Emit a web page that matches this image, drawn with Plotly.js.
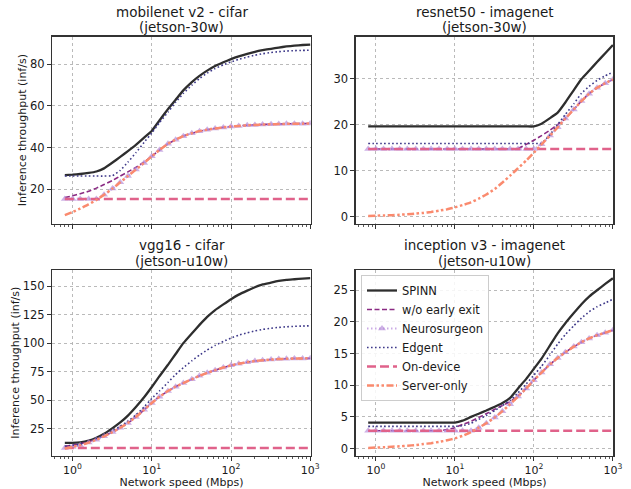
<!DOCTYPE html>
<html>
<head>
<meta charset="utf-8">
<script src="https://cdn.plot.ly/plotly-3.0.1.min.js"></script>
<style>
html,body{margin:0;padding:0;background:#fff;}
#chart{width:631px;height:489px;}
</style>
</head>
<body>
<div id="chart"></div>
<script>
// ---------- DATA ----------
const speeds = [0.8,1,1.25,1.6,2,2.5,3.2,4,5,6.3,8,10,12.5,16,20,25,32,40,50,63,80,100,125,160,200,250,320,400,500,630,800,1000];

const seriesNames = ["SPINN","w/o early exit","Neurosurgeon","Edgent","On-device","Server-only"];

const panelTitles = ["mobilenet v2 - cifar","resnet50 - imagenet","vgg16 - cifar","inception v3 - imagenet"];
const panelDevices = ["(jetson-30w)","(jetson-30w)","(jetson-u10w)","(jetson-u10w)"];

const xTickVals = [1,10,100,1000];
const xTickText = ["10<sup>0</sup>","10<sup>1</sup>","10<sup>2</sup>","10<sup>3</sup>"];

// mobilenet v2 - cifar (jetson-30w)
const mobilenetSpinn = [26.8,27.0,27.3,27.8,28.5,30.0,32.8,35.5,38.3,41.3,44.8,48.0,53.0,58.5,63.0,67.5,71.5,74.5,77.0,79.2,81.0,82.5,83.8,85.0,86.0,86.8,87.5,88.1,88.6,89.0,89.3,89.5];
const mobilenetNoEE = [16.0,16.8,17.8,19.0,20.5,22.2,24.2,26.3,28.3,30.5,33.0,35.8,38.8,41.8,43.8,45.5,46.9,47.9,48.6,49.2,49.7,50.1,50.4,50.7,50.9,51.1,51.2,51.3,51.4,51.5,51.5,51.6];
const mobilenetNeuro = [15.3,15.3,15.3,15.3,15.3,17.3,20.3,23.3,26.3,29.4,32.6,35.8,38.8,41.8,43.8,45.5,46.9,47.9,48.6,49.2,49.7,50.1,50.4,50.7,50.9,51.1,51.2,51.3,51.4,51.5,51.5,51.6];
const mobilenetEdgent = [26.3,26.3,26.3,26.3,26.3,26.3,26.5,29.0,33.0,37.5,42.5,47.0,52.0,57.0,61.8,66.0,70.0,73.2,75.8,78.0,79.8,81.2,82.4,83.5,84.4,85.1,85.7,86.1,86.4,86.6,86.7,86.8];
const mobilenetOnDevice = [15.3,15.3,15.3,15.3,15.3,15.3,15.3,15.3,15.3,15.3,15.3,15.3,15.3,15.3,15.3,15.3,15.3,15.3,15.3,15.3,15.3,15.3,15.3,15.3,15.3,15.3,15.3,15.3,15.3,15.3,15.3,15.3];
const mobilenetServer = [7.5,9.0,10.7,12.7,14.8,17.3,20.3,23.3,26.3,29.4,32.6,35.8,38.8,41.8,43.8,45.5,46.9,47.9,48.6,49.2,49.7,50.1,50.4,50.7,50.9,51.1,51.2,51.3,51.4,51.5,51.5,51.6];

// resnet50 - imagenet (jetson-30w)
const resnetSpinn = [19.6,19.6,19.6,19.6,19.6,19.6,19.6,19.6,19.6,19.6,19.6,19.6,19.6,19.6,19.6,19.6,19.6,19.6,19.6,19.6,19.6,19.6,20.2,21.4,22.6,24.8,27.5,29.9,31.7,33.6,35.5,37.3];
const resnetNoEE = [14.7,14.7,14.7,14.7,14.7,14.7,14.7,14.7,14.7,14.7,14.7,14.7,14.7,14.7,14.7,14.7,14.7,14.7,14.7,14.8,15.7,16.6,17.6,18.8,20.0,21.3,23.3,25.1,26.7,28.0,29.0,29.8];
const resnetNeuro = [14.7,14.7,14.7,14.7,14.7,14.7,14.7,14.7,14.7,14.7,14.7,14.7,14.7,14.7,14.7,14.7,14.7,14.7,14.7,14.7,14.7,14.7,15.7,17.6,19.4,21.3,23.3,25.1,26.7,28.0,29.0,29.8];
const resnetEdgent = [15.9,15.9,15.9,15.9,15.9,15.9,15.9,15.9,15.9,15.9,15.9,15.9,15.9,15.9,15.9,15.9,15.9,15.9,15.9,15.9,15.9,15.9,15.9,17.8,20.0,22.2,24.5,26.8,28.3,29.6,30.6,31.4];
const resnetOnDevice = [14.7,14.7,14.7,14.7,14.7,14.7,14.7,14.7,14.7,14.7,14.7,14.7,14.7,14.7,14.7,14.7,14.7,14.7,14.7,14.7,14.7,14.7,14.7,14.7,14.7,14.7,14.7,14.7,14.7,14.7,14.7,14.7];
const resnetServer = [0.15,0.2,0.25,0.32,0.4,0.5,0.65,0.8,1.0,1.3,1.6,2.0,2.5,3.1,3.9,4.8,6.0,7.4,8.9,10.5,12.2,13.9,15.7,17.6,19.4,21.3,23.3,25.1,26.7,28.0,29.0,29.8];

// vgg16 - cifar (jetson-u10w)
const vggSpinn = [12.5,12.5,13.0,14.5,17.0,20.5,25.5,30.5,36.5,44.0,52.5,61.5,71.0,81.0,90.5,100.0,108.5,116.0,123.0,129.0,134.0,138.5,142.5,146.0,149.0,151.5,153.0,154.5,155.5,156.0,156.5,157.0];
const vggNoEE = [9.5,10.5,11.8,13.5,15.8,18.5,22.0,25.8,30.0,35.3,41.5,47.5,53.0,58.0,61.8,65.0,68.3,71.3,74.0,76.3,78.6,80.5,82.0,83.3,84.3,85.0,85.6,86.0,86.3,86.5,86.6,86.7];
const vggNeuro = [8.0,9.0,10.5,12.8,15.3,18.3,22.0,25.8,30.0,35.3,41.5,47.5,53.0,58.0,61.8,65.0,68.3,71.3,74.0,76.3,78.6,80.5,82.0,83.3,84.3,85.0,85.6,86.0,86.3,86.5,86.6,86.7];
const vggEdgent = [9.5,10.5,11.5,13.5,16.5,19.5,23.5,27.0,31.5,37.0,44.0,51.5,58.0,65.5,72.5,78.5,84.5,89.5,94.0,98.0,101.5,104.5,107.0,109.0,110.7,112.0,113.0,113.8,114.3,114.7,115.0,115.2];
const vggOnDevice = [8.0,8.0,8.0,8.0,8.0,8.0,8.0,8.0,8.0,8.0,8.0,8.0,8.0,8.0,8.0,8.0,8.0,8.0,8.0,8.0,8.0,8.0,8.0,8.0,8.0,8.0,8.0,8.0,8.0,8.0,8.0,8.0];
const vggServer = [7.5,9.0,10.5,12.8,15.3,18.3,22.0,25.8,30.0,35.3,41.5,47.5,53.0,58.0,61.8,65.0,68.3,71.3,74.0,76.3,78.6,80.5,82.0,83.3,84.3,85.0,85.6,86.0,86.3,86.5,86.6,86.7];

// inception v3 - imagenet (jetson-u10w)
const inceptionSpinn = [4.1,4.1,4.1,4.1,4.1,4.1,4.1,4.1,4.1,4.1,4.1,4.1,4.4,5.0,5.5,6.0,6.6,7.2,8.0,9.5,11.0,12.6,14.2,16.3,18.2,19.8,21.4,22.8,24.0,25.0,26.0,26.9];
const inceptionNoEE = [2.8,2.8,2.8,2.8,2.8,2.8,2.8,2.8,2.8,2.8,3.0,3.3,3.8,4.3,4.9,5.5,6.2,6.8,7.4,8.3,9.5,10.8,12.0,13.3,14.3,15.2,16.1,16.8,17.4,17.9,18.3,18.7];
const inceptionNeuro = [2.8,2.8,2.8,2.8,2.8,2.8,2.8,2.8,2.8,2.8,2.8,2.8,2.8,2.8,3.3,4.0,4.9,5.9,7.0,8.2,9.5,10.8,12.0,13.3,14.3,15.2,16.1,16.8,17.4,17.9,18.3,18.7];
const inceptionEdgent = [3.5,3.5,3.5,3.5,3.5,3.5,3.5,3.5,3.5,3.5,3.5,3.5,3.6,4.0,4.6,5.2,6.0,6.8,7.6,8.8,10.2,11.6,13.0,14.8,16.5,18.0,19.4,20.6,21.6,22.4,23.0,23.6];
const inceptionOnDevice = [2.8,2.8,2.8,2.8,2.8,2.8,2.8,2.8,2.8,2.8,2.8,2.8,2.8,2.8,2.8,2.8,2.8,2.8,2.8,2.8,2.8,2.8,2.8,2.8,2.8,2.8,2.8,2.8,2.8,2.8,2.8,2.8];
const inceptionServer = [0.1,0.15,0.2,0.3,0.35,0.45,0.55,0.7,0.85,1.05,1.3,1.6,2.0,2.6,3.3,4.0,4.9,5.9,7.0,8.2,9.5,10.8,12.0,13.3,14.3,15.2,16.1,16.8,17.4,17.9,18.3,18.7];

// ---------- STYLE ----------
const FONT = "DejaVu Sans, Liberation Sans, sans-serif";
const TXT = "#1a1a1a";
const W = 631, H = 489;

const styles = [
  {mode:"lines", line:{color:"#2e2e2e", width:2.3, shape:"spline", smoothing:0.35}},
  {mode:"lines", line:{color:"#8a2a83", width:1.6, dash:"5px,2.5px", shape:"spline", smoothing:0.35}},
  {mode:"lines+markers", line:{color:"rgba(190,150,222,0.8)", width:2.2, dash:"1.5px,2.5px", shape:"spline", smoothing:0.35},
     marker:{symbol:"triangle-up", size:7, color:"rgba(178,135,215,0.65)", line:{width:0}}},
  {mode:"lines", line:{color:"#3f3a8a", width:1.6, dash:"1.6px,2.4px", shape:"spline", smoothing:0.35}},
  {mode:"lines", line:{color:"#e0628a", width:2.5, dash:"9px,4px"}},
  {mode:"lines", line:{color:"#fa8a6e", width:2.5, dash:"7px,2.5px,2.5px,2.5px,2.5px,2.5px", shape:"spline", smoothing:0.35}}
];

const panels = [
  {series:[mobilenetSpinn,mobilenetNoEE,mobilenetNeuro,mobilenetEdgent,mobilenetOnDevice,mobilenetServer], xa:"x", ya:"y"},
  {series:[resnetSpinn,resnetNoEE,resnetNeuro,resnetEdgent,resnetOnDevice,resnetServer], xa:"x2", ya:"y2"},
  {series:[vggSpinn,vggNoEE,vggNeuro,vggEdgent,vggOnDevice,vggServer], xa:"x3", ya:"y3"},
  {series:[inceptionSpinn,inceptionNoEE,inceptionNeuro,inceptionEdgent,inceptionOnDevice,inceptionServer], xa:"x4", ya:"y4"}
];

const traces = [];
panels.forEach((p, pi) => {
  p.series.forEach((vals, si) => {
    const st = styles[si];
    const t = {
      type:"scatter", x:speeds, y:vals, xaxis:p.xa, yaxis:p.ya,
      name:seriesNames[si], mode:st.mode, line:st.line,
      showlegend: pi === 3, legendgroup: seriesNames[si], hoverinfo:"skip"
    };
    if (st.marker) t.marker = st.marker;
    traces.push(t);
  });
});

const minorTicks = [];
[0.1,1,10,100].forEach(d => { for (let k = 2; k <= 9; k++) minorTicks.push(k*d); });

// plot areas in px: left, right, top, bottom
const colX = [[52.3,310.7],[355.7,613.3]];
const rowY = [[36.7,223.5],[270,455.5]];
const domX = c => [colX[c][0]/W, colX[c][1]/W];
const domY = r => [1-rowY[r][1]/H, 1-rowY[r][0]/H];

function xAxis(c, r, anchor, showLabels) {
  const ax = {
    type:"log", range:[-0.255,3.005], domain:domX(c), anchor:anchor,
    showline:true, mirror:true, linecolor:"#333", linewidth:1.3,
    ticks:"outside", ticklen:4, tickwidth:1, tickcolor:"#333",
    tickmode:"array", tickvals:xTickVals, ticktext:xTickText,
    showticklabels:showLabels,
    tickfont:{family:FONT, size:11, color:TXT},
    showgrid:true, gridcolor:"#b3b3b3", griddash:"dot", gridwidth:0.9,
    zeroline:false,
    minor:{tickmode:"array", tickvals:minorTicks, ticks:"outside", ticklen:2.2, tickwidth:0.8, tickcolor:"#333", showgrid:false}
  };
  if (showLabels) {
    ax.title = {text:"Network speed (Mbps)", font:{family:FONT, size:11, color:TXT}, standoff:4};
  }
  return ax;
}
function yAxis(c, r, anchor, range, dtick, withTitle) {
  const ax = {
    range:range, domain:domY(r), anchor:anchor,
    showline:true, mirror:true, linecolor:"#333", linewidth:1.3,
    ticks:"outside", ticklen:4, tickwidth:1, tickcolor:"#333",
    tick0:0, dtick:dtick,
    tickfont:{family:FONT, size:11.5, color:TXT},
    showgrid:true, gridcolor:"#b3b3b3", griddash:"dot", gridwidth:0.9,
    zeroline:false
  };
  if (withTitle) {
    ax.title = {text:"Inference throughput (inf/s)", font:{family:FONT, size:11, color:TXT}, standoff:1};
  }
  return ax;
}

const annotations = [];
for (let i = 0; i < 4; i++) {
  const c = i % 2, r = Math.floor(i / 2);
  const cx = (colX[c][0] + colX[c][1]) / 2 / W;
  const top = rowY[r][0];
  annotations.push({xref:"paper", yref:"paper", x:cx, y:1-(top-25)/H, xanchor:"center", yanchor:"middle",
    text:panelTitles[i], showarrow:false, font:{family:FONT, size:13.5, color:TXT}});
  annotations.push({xref:"paper", yref:"paper", x:cx, y:1-(top-9.5)/H, xanchor:"center", yanchor:"middle",
    text:panelDevices[i], showarrow:false, font:{family:FONT, size:13.5, color:TXT}});
}

const layout = {
  width:W, height:H, margin:{l:0, r:0, t:0, b:0},
  paper_bgcolor:"#fff", plot_bgcolor:"#fff",
  font:{family:FONT, color:TXT},
  xaxis: xAxis(0,0,"y",false),
  yaxis: yAxis(0,0,"x",[3.5,93.3],20,true),
  xaxis2: xAxis(1,0,"y2",false),
  yaxis2: yAxis(1,0,"x2",[-1.5,39.1],10,false),
  xaxis3: xAxis(0,1,"y3",true),
  yaxis3: yAxis(0,1,"x3",[1.5,164.1],25,true),
  xaxis4: xAxis(1,1,"y4",true),
  yaxis4: yAxis(1,1,"x4",[-1.1,28.2],5,false),
  annotations: annotations,
  legend:{x:361/W, y:1-275/H, xanchor:"left", yanchor:"top",
    bgcolor:"rgba(255,255,255,0.85)", bordercolor:"#cccccc", borderwidth:1,
    font:{family:FONT, size:11.5, color:TXT}, tracegroupgap:0, itemwidth:30},
  showlegend:true
};

Plotly.newPlot("chart", traces, layout, {displayModeBar:false, staticPlot:true});
</script>
</body>
</html>
